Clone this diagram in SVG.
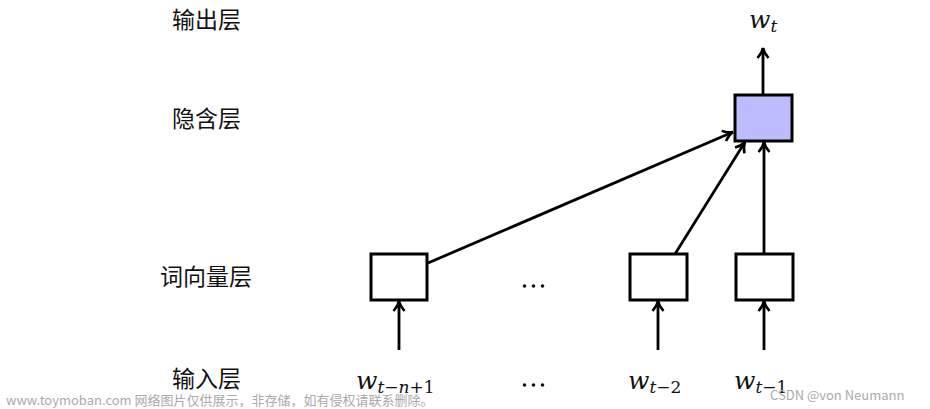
<svg xmlns="http://www.w3.org/2000/svg" width="930" height="409" viewBox="0 0 930 409">
<style>
.lbl{font-family:"Noto Sans CJK SC","Noto Sans",sans-serif;font-size:23px;fill:#111}
.box{fill:#fff;stroke:#000;stroke-width:3}
.hid{fill:#bcbcff;stroke:#000;stroke-width:3}
.con{stroke:#000;stroke-width:2.8;fill:none;marker-end:url(#ah)}
.m{font-family:"DejaVu Serif","Liberation Serif",serif;fill:#111}
.i{font-style:italic}
.wm{font-family:"Noto Sans CJK SC","Liberation Sans",sans-serif;font-size:13px;fill:#aaa}
.dot{fill:#111}
</style>
<defs>
<marker id="ah" viewBox="0 0 14 14" refX="12" refY="7" markerWidth="14" markerHeight="14" markerUnits="userSpaceOnUse" orient="auto">
<path d="M2,1.5 Q7,6 12,7 Q7,8 2,12.5" fill="none" stroke="#000" stroke-width="2.6" stroke-linejoin="miter"/>
</marker>
</defs>
<g id="labels">
<text class="lbl" x="172" y="28">输出层</text>
<text class="lbl" x="172" y="127">隐含层</text>
<text class="lbl" x="160" y="285">词向量层</text>
<text class="lbl" x="172" y="387">输入层</text>
</g>
<g id="connectors">
<line class="con" x1="763" y1="95" x2="763" y2="48"/>
<line class="con" x1="428" y1="263" x2="733" y2="132"/>
<line class="con" x1="675" y1="254" x2="745" y2="142"/>
<line class="con" x1="764" y1="254" x2="764" y2="142"/>
<line class="con" x1="399" y1="350" x2="399" y2="301"/>
<line class="con" x1="658" y1="350" x2="658" y2="301"/>
<line class="con" x1="764" y1="350" x2="764" y2="301"/>
</g>
<g id="hidden"><rect class="hid" x="735" y="95" width="57" height="46"/></g>
<g id="wv1"><rect class="box" x="371" y="254" width="56" height="46"/></g>
<g id="wv2"><rect class="box" x="630" y="254" width="57" height="46"/></g>
<g id="wv3"><rect class="box" x="736" y="254" width="57" height="46"/></g>
<g id="dots1"><circle class="dot" cx="524.5" cy="286" r="1.8"/><circle class="dot" cx="533.5" cy="286" r="1.8"/><circle class="dot" cx="542.5" cy="286" r="1.8"/></g>
<g id="dots2"><circle class="dot" cx="524.5" cy="385" r="1.8"/><circle class="dot" cx="533.5" cy="385" r="1.8"/><circle class="dot" cx="542.5" cy="385" r="1.8"/></g>
<g id="wt"><text class="m" x="749" y="28" font-size="25"><tspan class="i">w</tspan><tspan class="i" font-size="17" dy="4">t</tspan></text></g>
<g id="in1"><text class="m" x="356" y="389" font-size="25"><tspan class="i">w</tspan><tspan font-size="17" dy="4"><tspan class="i">t</tspan>−<tspan class="i">n</tspan>+1</tspan></text></g>
<g id="in2"><text class="m" x="628" y="389" font-size="25"><tspan class="i">w</tspan><tspan font-size="17" dy="4"><tspan class="i">t</tspan>−2</tspan></text></g>
<g id="in3"><text class="m" x="734" y="389" font-size="25"><tspan class="i">w</tspan><tspan font-size="17" dy="4"><tspan class="i">t</tspan>−1</tspan></text></g>
<g id="watermark">
<text class="wm" x="6" y="405">www.toymoban.com 网络图片仅供展示，非存储，如有侵权请联系删除。</text>
<text class="wm" x="770" y="400" font-family="Liberation Sans" font-size="16">CSDN @von  Neumann</text>
</g>
</svg>
